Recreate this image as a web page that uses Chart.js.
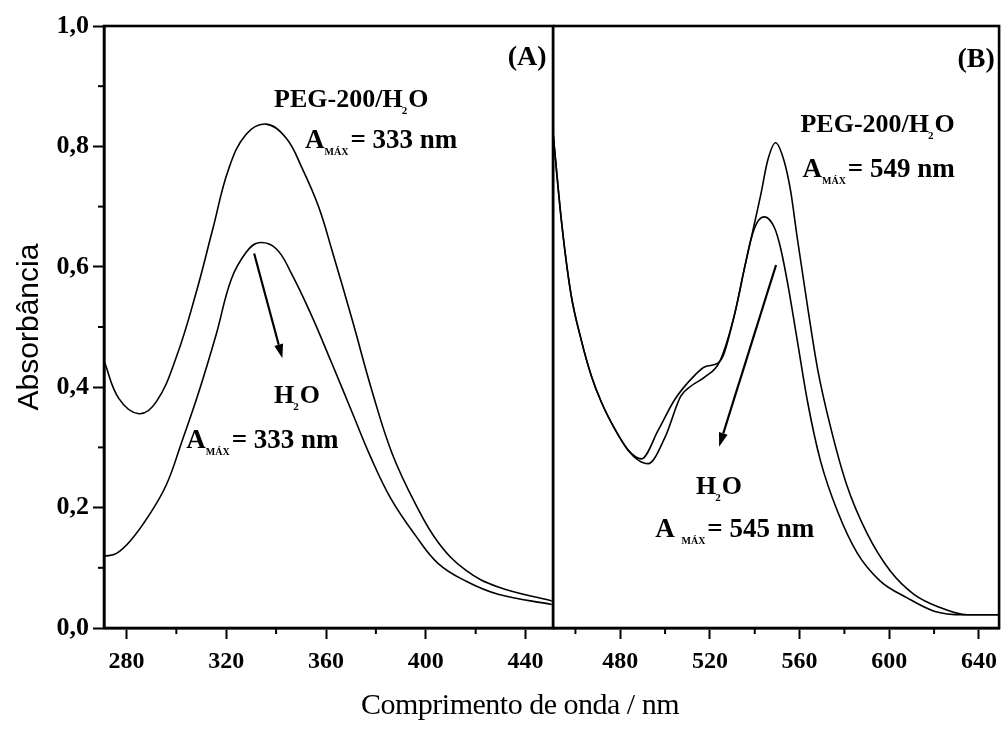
<!DOCTYPE html>
<html>
<head>
<meta charset="utf-8">
<script src="https://cdn.jsdelivr.net/npm/chart.js@4.4.1/dist/chart.umd.min.js"></script>
<style>
html,body{margin:0;padding:0;background:#fff;}
#wrap{position:relative;width:1005px;height:736px;overflow:hidden;background:#fff;}
#cA{position:absolute;left:0;top:0;}
#cB{position:absolute;left:553px;top:0;}
#xt{position:absolute;left:320px;width:400px;top:688px;text-align:center;
    font-family:"Liberation Serif",serif;font-size:30px;line-height:32px;color:#000;letter-spacing:-0.5px;}
</style>
</head>
<body>
<div id="wrap">
<canvas id="cA" width="555" height="736"></canvas>
<canvas id="cB" width="452" height="736"></canvas>
<div id="xt">Comprimento de onda / nm</div>
</div>
<script>
// ---------- Data ----------
// Panel A
const wlA_peg  = [271, 277, 285, 292, 300, 308, 314.5, 321, 328, 336, 344, 350.5, 357, 362.5, 370.5, 378.5, 386.5, 396, 405, 416, 429, 450.5];
const absA_peg = [0.444, 0.381, 0.356, 0.376, 0.450, 0.558, 0.661, 0.763, 0.820, 0.837, 0.814, 0.763, 0.700, 0.626, 0.512, 0.393, 0.290, 0.205, 0.142, 0.096, 0.068, 0.045];
const wlA_h2o  = [271, 276, 282, 289, 296, 302, 309, 316, 322, 328, 333, 340, 346, 354, 362, 370, 378, 386, 396, 405, 416, 429, 450.5];
const absA_h2o = [0.119, 0.124, 0.147, 0.187, 0.238, 0.307, 0.392, 0.488, 0.579, 0.624, 0.640, 0.630, 0.590, 0.521, 0.443, 0.363, 0.283, 0.215, 0.153, 0.107, 0.078, 0.056, 0.039];
// Panel B
const wlB_peg  = [450, 453.8, 458, 462.7, 467, 471.6, 477.8, 483.6, 488, 492.4, 500, 507, 511.6, 517.8, 524.4, 531, 535.6, 538.4, 542.7, 545.8, 549.3, 553, 556, 559, 563.6, 568, 573.8, 581, 590, 600.4, 611, 622.7, 634.7, 649];
const absB_peg = [0.823, 0.675, 0.555, 0.477, 0.420, 0.375, 0.329, 0.295, 0.279, 0.273, 0.317, 0.385, 0.402, 0.417, 0.443, 0.521, 0.601, 0.647, 0.720, 0.777, 0.806, 0.777, 0.726, 0.647, 0.533, 0.431, 0.334, 0.238, 0.158, 0.095, 0.056, 0.034, 0.022, 0.022];
const wlB_h2o  = [450, 453.8, 458, 462.7, 467, 471.6, 477.8, 483.6, 489.5, 497, 504.4, 513.3, 517.8, 523.6, 526, 531, 535.6, 538.4, 541.3, 544.4, 548.9, 551.6, 554.7, 559, 563.6, 569.3, 577, 585.8, 596, 608, 620, 633, 649];
const absB_h2o = [0.823, 0.675, 0.555, 0.477, 0.420, 0.375, 0.329, 0.295, 0.281, 0.329, 0.380, 0.420, 0.434, 0.440, 0.453, 0.521, 0.601, 0.647, 0.675, 0.683, 0.664, 0.630, 0.572, 0.477, 0.375, 0.278, 0.193, 0.124, 0.078, 0.050, 0.028, 0.022, 0.022];

// Tick labels
const xMajorA = [280, 320, 360, 400, 440];
const xMinorA = [300, 340, 380, 420];
const xMajorB = [480, 520, 560, 600, 640];
const xMinorB = [460, 500, 540, 580, 620];
const yMajor  = [0, 0.2, 0.4, 0.6, 0.8, 1.0];
const yMinor  = [0.1, 0.3, 0.5, 0.7, 0.9];

// Annotation texts
const annA = {peg:'PEG-200/H', pegMax:'333 nm', h2o:'H', h2oMax:'333 nm', tag:'(A)'};
const annB = {peg:'PEG-200/H', pegMax:'549 nm', h2o:'H', h2oMax:'545 nm', tag:'(B)'};

const SERIF = '"Liberation Serif", "Times New Roman", serif';
const zip = (xs, ys) => xs.map((x, i) => ({x: x, y: ys[i]}));

function lineDs(xs, ys, mode){
  const ds = {data: zip(xs, ys), borderColor:'#000', borderWidth:1.6, pointRadius:0, fill:false};
  if (mode === 'monotone') ds.cubicInterpolationMode = 'monotone'; else ds.tension = 0.4;
  return ds;
}

function drawRuns(ctx, x, y, runs, align){
  let total = 0;
  runs.forEach(r => { ctx.font = 'bold ' + r.size + 'px ' + SERIF; total += ctx.measureText(r.t).width + (r.gap||0); });
  let cx = align === 'right' ? x - total : x;
  ctx.textBaseline = 'alphabetic';
  ctx.textAlign = 'left';
  runs.forEach(r => {
    ctx.font = 'bold ' + r.size + 'px ' + SERIF;
    ctx.fillText(r.t, cx, y + (r.dy||0));
    cx += ctx.measureText(r.t).width + (r.gap||0);
  });
}
function h2oRuns(prefix, size){
  return [{t:prefix, size:size, gap:-1}, {t:'2', size:11, dy:7, gap:1}, {t:'O', size:size}];
}
function amaxRuns(val, size, space){
  return [{t:'A' + (space?' ':''), size:size}, {t:'MÁX', size:10, dy:7, gap:2}, {t:'= ' + val, size:size}];
}
function arrow(ctx, x1, y1, x2, y2){
  const ang = Math.atan2(y2 - y1, x2 - x1);
  const L = 14, W = 4.5;
  const bx = x2 - L*Math.cos(ang), by = y2 - L*Math.sin(ang);
  ctx.beginPath(); ctx.moveTo(x1, y1); ctx.lineTo(bx, by);
  ctx.lineWidth = 2.2; ctx.strokeStyle = '#000'; ctx.stroke();
  ctx.beginPath(); ctx.moveTo(x2, y2);
  ctx.lineTo(bx + W*Math.sin(ang), by - W*Math.cos(ang));
  ctx.lineTo(bx - W*Math.sin(ang), by + W*Math.cos(ang));
  ctx.closePath(); ctx.fillStyle = '#000'; ctx.fill();
}

function framePlugin(minorX, showY){
  return {
    id:'frame',
    afterDraw(chart){
      const ctx = chart.ctx, a = chart.chartArea;
      const xs = chart.scales.x, ys = chart.scales.y;
      ctx.save();
      ctx.strokeStyle = '#000'; ctx.lineWidth = 2.6;
      ctx.strokeRect(a.left, a.top, a.right - a.left, a.bottom - a.top);
      ctx.lineWidth = 2;
      minorX.forEach(v => { const px = xs.getPixelForValue(v);
        ctx.beginPath(); ctx.moveTo(px, a.bottom); ctx.lineTo(px, a.bottom + 6); ctx.stroke(); });
      if (showY) yMinor.forEach(v => { const py = ys.getPixelForValue(v);
        ctx.beginPath(); ctx.moveTo(a.left, py); ctx.lineTo(a.left - 6, py); ctx.stroke(); });
      ctx.restore();
    }
  };
}

function annPlugin(spec){
  return {
    id:'ann',
    afterDatasetsDraw(chart){
      const ctx = chart.ctx, X = chart.scales.x, Y = chart.scales.y;
      const px = v => X.getPixelForValue(v), py = v => Y.getPixelForValue(v);
      ctx.save(); ctx.fillStyle = '#000';
      spec(ctx, px, py);
      ctx.restore();
    }
  };
}

function baseOptions(xmin, xmax, majors, yDisplay){
  return {
    responsive:false, animation:false, events:[],
    layout:{padding:{top:26, right:2, left:0, bottom:0}},
    plugins:{legend:{display:false}, tooltip:{enabled:false}},
    scales:{
      x:{type:'linear', min:xmin, max:xmax,
         afterBuildTicks: s => { s.ticks = majors.map(v => ({value:v})); },
         afterFit: s => { s.height = 108; },
         ticks:{color:'#000', padding:8, maxRotation:0, autoSkip:false,
                font:{family:SERIF, size:24, weight:'bold'}, callback:v => String(v)},
         grid:{drawOnChartArea:false, tickLength:11, tickWidth:2, tickColor:'#000'},
         border:{color:'#000', width:2.6}},
      y:{type:'linear', min:0, max:1, display:yDisplay,
         afterBuildTicks: s => { s.ticks = yMajor.map(v => ({value:v})); },
         afterFit: s => { s.width = yDisplay ? 104 : 0; },
         ticks:{color:'#000', padding:4, font:{family:SERIF, size:26, weight:'bold'},
                callback:v => Number(v).toFixed(1).replace('.', ',')},
         grid:{drawOnChartArea:false, tickLength:11, tickWidth:2, tickColor:'#000'},
         border:{color:'#000', width:2.6},
         title:{display:true, text:'Absorbância', color:'#000',
                font:{family:'"Liberation Sans", Arial, sans-serif', size:30}, padding:{top:12, bottom:0}}}
    }
  };
}

new Chart(document.getElementById('cA'), {
  type:'line',
  data:{datasets:[lineDs(wlA_peg, absA_peg, 'spline'), lineDs(wlA_h2o, absA_h2o, 'spline')]},
  options: baseOptions(271, 451, xMajorA, true),
  plugins:[framePlugin(xMinorA, true), annPlugin((ctx, px, py) => {
    drawRuns(ctx, px(448.4), py(0.935), [{t:annA.tag, size:28}], 'right');
    drawRuns(ctx, px(339.2), py(0.865), h2oRuns(annA.peg, 26));
    drawRuns(ctx, px(351.6), py(0.797), amaxRuns(annA.pegMax, 27, false));
    drawRuns(ctx, px(339.2), py(0.374), h2oRuns(annA.h2o, 26));
    drawRuns(ctx, px(304), py(0.299), amaxRuns(annA.h2oMax, 27, false));
    arrow(ctx, px(331.2), py(0.622), px(342.5), py(0.448));
  })]
});

new Chart(document.getElementById('cB'), {
  type:'line',
  data:{datasets:[lineDs(wlB_peg, absB_peg, 'monotone'), lineDs(wlB_h2o, absB_h2o, 'monotone')]},
  options: baseOptions(450, 649, xMajorB, false),
  plugins:[framePlugin(xMinorB, false), annPlugin((ctx, px, py) => {
    drawRuns(ctx, px(647.1), py(0.932), [{t:annB.tag, size:28}], 'right');
    drawRuns(ctx, px(560.4), py(0.824), h2oRuns(annB.peg, 26));
    drawRuns(ctx, px(561.3), py(0.749), amaxRuns(annB.pegMax, 27, false));
    drawRuns(ctx, px(513.8), py(0.222), h2oRuns(annB.h2o, 26));
    drawRuns(ctx, px(495.6), py(0.151), amaxRuns(annB.h2oMax, 27, true));
    arrow(ctx, px(549.5), py(0.603), px(524.1), py(0.301));
  })]
});
</script>
</body>
</html>
